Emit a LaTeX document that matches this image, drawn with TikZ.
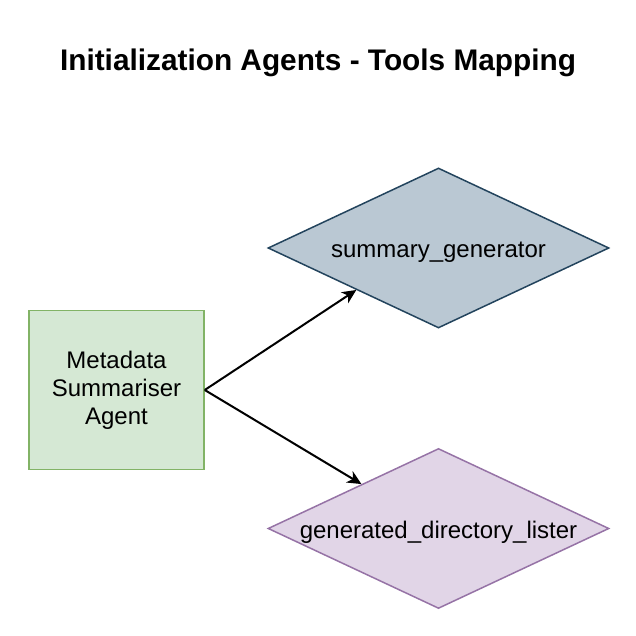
\documentclass[tikz,border=0pt]{standalone}
\usepackage{fontspec}
\setmainfont{Liberation Sans}
\usetikzlibrary{shapes.geometric,arrows.meta,calc}
\definecolor{agentfill}{HTML}{D5E8D4}
\definecolor{agentline}{HTML}{82B366}
\definecolor{sumfill}{HTML}{BAC8D3}
\definecolor{sumline}{HTML}{23445D}
\definecolor{dirfill}{HTML}{E1D5E7}
\definecolor{dirline}{HTML}{9673A6}
\tikzset{
  agent/.style={draw=agentline, fill=agentfill, line width=1.5pt, minimum width=175pt, minimum height=159pt, align=center, font=\fontsize{24}{28}\selectfont},
  tool/.style={shape=diamond, line width=1.5pt, aspect=2.13, minimum width=341pt, minimum height=160pt, inner sep=0pt, text height=20pt, text depth=0pt, font=\fontsize{24}{28}\selectfont},
  link/.style={-{Stealth[length=14pt,width=13pt,inset=4pt]}, line width=2pt}
}
\begin{document}
\begin{tikzpicture}[x=1pt,y=1pt]
\useasboundingbox (0,0) rectangle (636,636);
\node[font=\bfseries\fontsize{29.8}{34}\selectfont] (title) at (318,573) {Initialization Agents - Tools Mapping};

\node[agent] (msa) at (116.5,246) {Metadata\\Summariser\\Agent};
\node[tool, draw=sumline, fill=sumfill] (sg) at (438.5,388) {summary\_generator};
\node[tool, draw=dirline, fill=dirfill] (gdl) at (438.5,107.5) {generated\_directory\_lister};

\draw[link] (msa.east) -- ($(sg.west)!0.52!(sg.south)$);
\draw[link] (msa.east) -- ($(gdl.west)!0.55!(gdl.north)$);
\end{tikzpicture}
\end{document}
